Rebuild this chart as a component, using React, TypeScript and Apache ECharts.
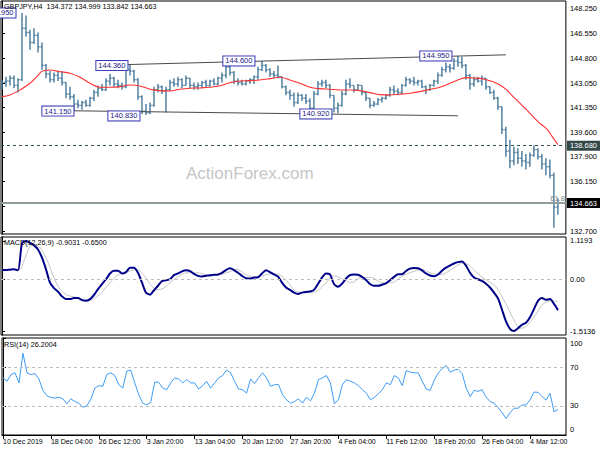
import React, { useEffect, useRef } from 'react';
import * as echarts from 'echarts';

// ---------- DATA ----------
const opens = [
  142.9, 143.1, 143.2, 143.4, 142.9, 143.3, 146.9, 146.6, 145.9, 146.4,
  145.6, 144.3, 143.7, 143.3, 143.6, 143.4, 143.1, 142.3, 142.1, 141.6,
  141.5, 141.7, 141.5, 142.0, 142.4, 142.7, 142.6, 143.2, 143.4, 143.0,
  142.9, 142.8, 144.0, 143.9, 143.3, 142.1, 141.1, 141.0, 141.5, 142.6,
  142.8, 142.5, 142.6, 143.1, 143.0, 143.3, 142.9, 143.4, 142.9, 142.8,
  142.9, 143.1, 142.9, 143.2, 143.0, 143.4, 143.6, 144.2, 143.8, 143.2,
  143.1, 143.0, 143.2, 143.3, 143.5, 144.0, 144.3, 144.0, 143.7, 143.6,
  143.5, 142.8, 142.4, 142.2, 141.7, 142.2, 142.0, 141.8, 141.3, 142.3,
  143.0, 143.1, 142.9, 142.2, 141.3, 141.5, 142.3, 143.0, 142.9, 142.6,
  142.9, 142.4, 142.0, 141.5, 141.6, 141.9, 142.0, 142.2, 142.6, 142.5,
  142.4, 142.9, 143.3, 143.2, 143.1, 143.2, 142.8, 142.6, 142.9, 143.2,
  143.6, 144.0, 144.2, 144.1, 144.6, 144.5, 144.3, 143.6, 143.0, 143.3,
  143.2, 143.4, 142.8, 142.4, 142.0, 141.4, 139.8, 138.3, 137.6, 138.2,
  137.8, 137.6, 137.5, 138.0, 138.4, 137.9, 137.4, 137.2, 136.6, 134.372,
];
const highs = [
  143.3, 143.5, 143.6, 143.6, 143.4, 147.97, 147.8, 146.8, 146.9, 146.6,
  145.9, 144.4, 143.9, 143.8, 143.9, 143.9, 143.1, 142.8, 142.3, 141.9,
  141.8, 141.9, 142.1, 142.6, 142.9, 143.0, 143.4, 143.7, 143.5, 143.3,
  143.1, 144.2, 144.36, 144.0, 143.4, 142.2, 141.6, 141.7, 142.8, 143.0,
  142.9, 142.8, 143.3, 143.4, 143.5, 143.4, 143.6, 143.4, 143.1, 143.1,
  143.2, 143.3, 143.3, 143.4, 143.5, 143.8, 144.4, 144.25, 143.9, 143.4,
  143.3, 143.3, 143.4, 143.6, 144.2, 144.6, 144.4, 144.1, 143.9, 144.3,
  143.5, 142.9, 142.6, 142.4, 142.4, 142.3, 142.3, 142.0, 142.5, 143.2,
  143.3, 143.3, 143.0, 142.2, 141.7, 142.5, 143.3, 143.4, 142.9, 143.0,
  142.9, 142.5, 142.0, 141.8, 142.0, 142.1, 142.3, 142.8, 142.9, 142.7,
  143.0, 143.5, 143.4, 143.5, 143.3, 143.3, 142.9, 143.0, 143.3, 143.8,
  144.2, 144.5, 144.4, 144.8, 144.95, 144.9, 144.4, 143.7, 143.5, 143.5,
  143.6, 143.4, 142.8, 142.6, 142.1, 141.4, 140.0, 139.1, 138.6, 138.5,
  138.3, 138.1, 138.2, 138.7, 138.5, 138.1, 137.8, 137.7, 136.8, 134.999,
];
const lows = [
  142.6, 142.8, 142.9, 142.7, 142.4, 143.2, 146.3, 145.4, 145.8, 145.2,
  144.0, 143.4, 143.1, 143.1, 143.2, 142.9, 142.0, 141.9, 141.15, 141.3,
  141.2, 141.4, 141.4, 141.8, 142.1, 142.5, 142.5, 142.9, 142.8, 142.7,
  142.6, 142.7, 143.6, 143.1, 141.9, 140.9, 140.83, 140.9, 141.4, 142.4,
  142.3, 141.0, 142.5, 142.8, 142.8, 142.7, 142.9, 142.7, 142.6, 142.6,
  142.7, 142.8, 142.8, 142.9, 142.9, 143.1, 143.4, 143.6, 143.0, 142.9,
  142.9, 142.9, 143.0, 143.0, 143.3, 143.9, 143.8, 143.5, 143.4, 143.4,
  142.7, 142.2, 141.9, 141.4, 141.6, 141.8, 141.6, 140.92, 141.2, 142.2,
  142.8, 142.7, 142.0, 141.0, 140.95, 141.4, 142.2, 142.7, 142.4, 142.5,
  142.2, 141.8, 141.3, 141.4, 141.5, 141.7, 141.9, 142.1, 142.3, 142.2,
  142.3, 142.8, 143.0, 142.9, 142.9, 142.7, 142.3, 142.5, 142.8, 143.0,
  143.5, 143.8, 143.8, 144.0, 144.2, 144.1, 143.3, 142.6, 142.8, 143.1,
  142.9, 142.6, 142.3, 141.9, 141.2, 139.5, 137.9, 137.1, 137.3, 137.4,
  137.2, 137.0, 137.2, 137.9, 137.7, 137.0, 136.6, 136.4, 132.92, 133.842,
];
const closes = [
  143.1, 143.2, 143.4, 142.9, 143.3, 146.9, 146.6, 145.9, 146.4, 145.6,
  144.3, 143.7, 143.3, 143.6, 143.4, 143.1, 142.3, 142.1, 141.6, 141.5,
  141.7, 141.5, 142.0, 142.4, 142.7, 142.6, 143.2, 143.4, 143.0, 142.9,
  142.8, 144.0, 143.9, 143.3, 142.1, 141.1, 141.0, 141.5, 142.6, 142.8,
  142.5, 142.6, 143.1, 143.0, 143.3, 142.9, 143.4, 142.9, 142.8, 142.9,
  143.1, 142.9, 143.2, 143.0, 143.4, 143.6, 144.2, 143.8, 143.2, 143.1,
  143.0, 143.2, 143.3, 143.5, 144.0, 144.3, 144.0, 143.7, 143.6, 143.5,
  142.8, 142.4, 142.2, 141.7, 142.2, 142.0, 141.8, 141.3, 142.3, 143.0,
  143.1, 142.9, 142.2, 141.3, 141.5, 142.3, 143.0, 142.9, 142.6, 142.9,
  142.4, 142.0, 141.5, 141.6, 141.9, 142.0, 142.2, 142.6, 142.5, 142.4,
  142.9, 143.3, 143.2, 143.1, 143.2, 142.8, 142.6, 142.9, 143.2, 143.6,
  144.0, 144.2, 144.1, 144.6, 144.5, 144.3, 143.6, 143.0, 143.3, 143.2,
  143.4, 142.8, 142.4, 142.0, 141.4, 139.8, 138.3, 137.6, 138.2, 137.8,
  137.6, 137.5, 138.0, 138.4, 137.9, 137.4, 137.2, 136.6, 134.372, 134.663,
];

// red moving average: [bar index, price]
const maIdx = [
  0, 2, 4.5, 7, 8.7, 10.3, 12, 14.5, 17, 19.5, 22, 24.5, 27, 29.5, 32, 34.5,
  37, 39.5, 42, 44.5, 47, 49.5, 52, 54.5, 57, 59.5, 62, 64.5, 67, 69.5, 72,
  74.5, 77, 79.5, 82, 84.5, 87, 89.5, 92, 94.5, 97, 99.5, 102, 104.5, 107,
  109.5, 112, 114.5, 116.2, 117.8, 120.3, 122.8, 124.5, 126.2, 127.8, 129.5,
  131.2, 132.8, 134.5, 136.2, 137.5, 139,
];
const maVal = [
  142.11, 142.23, 142.58, 143.05, 143.51, 143.93, 143.98, 143.86, 143.75, 143.47,
  143.05, 142.77, 142.77, 142.81, 142.93, 142.86, 142.63, 142.53, 142.51, 142.63,
  142.7, 142.72, 142.77, 142.88, 143.09, 143.21, 143.23, 143.28, 143.37, 143.47,
  143.28, 143.05, 142.77, 142.67, 142.63, 142.58, 142.58, 142.53, 142.39, 142.25,
  142.23, 142.28, 142.35, 142.46, 142.63, 142.77, 143.05, 143.33, 143.44, 143.42,
  143.35, 143.16, 142.93, 142.58, 142.11, 141.65, 141.18, 140.71, 140.24, 139.85,
  139.35, 138.75,
];

const macd = [
  0.27, 0.27, 0.28, 0.29, 0.26, 1.05, 1.1193, 1.06, 0.99, 0.87,
  0.63, 0.29, -0.1, -0.26, -0.36, -0.5, -0.58, -0.58, -0.55, -0.55,
  -0.61, -0.63, -0.58, -0.46, -0.29, -0.14, 0.0, 0.17, 0.25, 0.25,
  0.17, 0.21, 0.34, 0.34, 0.19, -0.1, -0.39, -0.45, -0.32, -0.19,
  -0.05, -0.03, 0.0, 0.12, 0.17, 0.23, 0.26, 0.24, 0.16, 0.1,
  0.08, 0.1, 0.12, 0.13, 0.14, 0.19, 0.27, 0.32, 0.27, 0.19,
  0.1, 0.03, 0.02, 0.05, 0.06, 0.17, 0.26, 0.21, 0.14, 0.08,
  -0.1, -0.24, -0.31, -0.39, -0.43, -0.39, -0.37, -0.36, -0.31, -0.14,
  0.05, 0.17, 0.14, -0.14, -0.22, -0.13, 0.02, 0.12, 0.14, 0.13,
  0.07, -0.02, -0.14, -0.19, -0.19, -0.16, -0.12, -0.03, 0.07, 0.15,
  0.15, 0.24, 0.31, 0.33, 0.32, 0.26, 0.17, 0.11, 0.09, 0.14,
  0.25, 0.34, 0.4, 0.46, 0.5, 0.52, 0.4, 0.19, 0.05, 0.0,
  -0.05, -0.13, -0.24, -0.39, -0.56, -0.89, -1.23, -1.45, -1.5136, -1.43,
  -1.33, -1.27, -1.11, -0.87, -0.63, -0.55, -0.6, -0.58, -0.72, -0.9031,
];
const sigIdx = [
  0, 4.5, 5.3, 7, 8.25, 9.5, 11.2, 12.8, 14.5, 16.2, 17.8, 20.3, 22, 23.7,
  25.3, 27, 28.7, 30.3, 32, 33.7, 35.3, 37, 38.7, 40.3, 42, 43.7, 46.2, 48.7,
  51.2, 53.7, 56.2, 58.7, 61.2, 63.7, 66.2, 68.7, 71.2, 73.25, 75.75, 78.25,
  80.75, 82.8, 84.9, 87.4, 89.9, 92.4, 94.9, 97.4, 99.9, 102.4, 104.9, 107.4,
  109.9, 112.4, 114.9, 116.6, 118.7, 120.75, 123.25, 125.75, 128.25, 129.5,
  130.75, 133.25, 135.3, 137.4, 139,
];
const sigVal = [
  0.29, 0.29, 0.48, 0.96, 1.01, 0.92, 0.58, 0.1, -0.29, -0.46, -0.51, -0.58,
  -0.61, -0.51, -0.34, -0.1, 0.1, 0.19, 0.24, 0.29, 0.14, -0.14, -0.31, -0.27,
  -0.1, 0.05, 0.19, 0.19, 0.13, 0.12, 0.19, 0.29, 0.12, 0.05, 0.14, 0.16,
  -0.05, -0.34, -0.39, -0.37, -0.14, 0.1, 0.02, -0.1, 0.05, 0.05, -0.1, -0.1,
  0.08, 0.21, 0.29, 0.17, 0.14, 0.29, 0.46, 0.43, 0.19, 0.0, -0.19, -0.67,
  -1.25, -1.43, -1.4, -1.06, -0.72, -0.63, -0.65,
];

const rsi = [
  58.9, 55.4, 62.3, 64.1, 53.7, 84.3, 64.1, 62.3, 63.4, 57.8,
  46.0, 40.4, 38.7, 38.0, 39.0, 37.3, 32.1, 37.3, 34.5, 32.8,
  28.6, 30.0, 37.0, 48.4, 50.9, 50.2, 62.3, 64.1, 61.3, 51.9,
  48.4, 65.8, 66.9, 53.7, 41.5, 32.8, 31.0, 33.8, 54.7, 54.3,
  48.4, 46.7, 53.7, 58.9, 57.8, 53.7, 57.1, 53.7, 53.7, 47.4,
  50.9, 55.4, 48.4, 53.7, 58.9, 61.3, 66.9, 64.1, 55.4, 47.4,
  46.7, 43.2, 57.8, 53.0, 58.9, 64.1, 58.9, 50.2, 51.9, 51.9,
  41.5, 36.3, 32.8, 34.5, 37.3, 32.8, 39.0, 35.2, 43.2, 57.1,
  58.9, 61.3, 53.7, 32.1, 36.3, 51.9, 57.1, 55.4, 53.7, 50.9,
  46.7, 43.2, 36.3, 38.7, 42.5, 46.7, 53.7, 51.9, 61.3, 58.9,
  50.9, 66.5, 64.8, 64.1, 64.1, 55.4, 47.4, 46.0, 56.4, 64.1,
  68.3, 71.7, 64.8, 66.9, 67.6, 63.4, 48.4, 39.7, 46.0, 45.0,
  46.7, 39.0, 34.5, 32.8, 28.3, 23.0, 17.1, 23.0, 27.6, 27.6,
  31.0, 31.0, 36.3, 44.3, 43.9, 39.7, 36.0, 43.0, 24.0, 26.2,
];

const priceTicks = [132.7, 134.4, 136.15, 137.9, 139.6, 141.35, 143.05, 144.8, 146.55, 148.25];
const priceLabels = [132.7, 136.15, 137.9, 139.6, 141.35, 143.05, 144.8, 146.55, 148.25];
const macdTicks = [-1.5136, 0, 1.1193];
const rsiTicks = [0, 30, 70, 100];
const rsiLevels = [30, 70];
const xLabelIdx = [0, 12, 24, 36, 48, 60, 72, 84, 96, 108, 120, 132];
const xLabels = [
  '10 Dec 2019', '18 Dec 04:00', '26 Dec 12:00', '3 Jan 20:00', '13 Jan 04:00', '20 Jan 12:00',
  '27 Jan 20:00', '4 Feb 04:00', '11 Feb 12:00', '18 Feb 20:00', '26 Feb 04:00', '4 Mar 12:00',
];
const resistanceLevel = 138.68;
const fibLevel = 134.663;
const lastPrice = 134.663;
const upperChannel = [[31.5, 144.36], [126, 145.04]];
const lowerChannel = [[18, 141.12], [114, 140.77]];
const noteIdx = [3.5, 18, 34.5, 82.5, 31.5, 63.25, 112.5];
const notePrice = [147.97, 141.1, 140.76, 140.9, 144.29, 144.61, 144.96];
const noteText = ['147.950', '141.150', '140.830', '140.920', '144.360', '144.600', '144.950'];

// ---------- CHART ----------
const FONT = "'Liberation Sans', Arial, sans-serif";
const BAR_COLOR = '#47799a';

function buildOption(): any {
  const bars = closes.map((c, i) => [i, opens[i], highs[i], lows[i], c]);
  const xBase = {
    type: 'value', min: -0.25, max: 141,
    splitLine: { show: false }, axisLabel: { show: false }, axisTick: { show: false }, axisLine: { show: false },
  };
  const yBase = {
    position: 'right',
    scale: true,
    splitLine: { show: false },
    axisLine: { show: true, lineStyle: { color: '#000', width: 1 } },
  };
  const lbl = { fontSize: 7.5, color: '#000', fontFamily: FONT, margin: 4 };
  const noteLabel = {
    show: true, position: 'left', distance: 0, fontSize: 7.5, fontFamily: FONT,
    color: '#1a1a86', backgroundColor: '#fff', borderColor: '#3838b8', borderWidth: 1,
    padding: [1, 2, 0, 2], lineHeight: 8,
  };
  const tagLabel = (text: string, bg: string) => ({
    show: true, position: 'end', distance: 1, formatter: text,
    backgroundColor: bg, color: '#fff', fontSize: 7.5, fontFamily: FONT, padding: [1, 4, 1, 3],
  });
  return {
    animation: false,
    backgroundColor: '#fff',
    textStyle: { fontFamily: FONT },
    title: [
      { text: 'GBPJPY,H4  134.372 134.999 133.842 134.663', left: 4, top: 3, padding: 0,
        textStyle: { fontSize: 7.2, fontWeight: 'normal', color: '#000', fontFamily: FONT } },
      { text: 'MACD(12,26,9) -0.9031 -0.6500', left: 4, top: 239, padding: 0,
        textStyle: { fontSize: 7.2, fontWeight: 'normal', color: '#000', fontFamily: FONT } },
      { text: 'RSI(14) 26.2004', left: 4, top: 341, padding: 0,
        textStyle: { fontSize: 7.2, fontWeight: 'normal', color: '#000', fontFamily: FONT } },
    ],
    graphic: [
      { type: 'text', left: 186, top: 165, z: -10, silent: true,
        style: { text: 'ActionForex.com', fontSize: 17, fill: '#c6c6c6', fontFamily: FONT } },
    ],
    grid: [
      { left: 1, top: 1, width: 565, height: 233, show: true, borderColor: '#000', borderWidth: 1, backgroundColor: 'transparent' },
      { left: 1, top: 237, width: 565, height: 98, show: true, borderColor: '#000', borderWidth: 1, backgroundColor: 'transparent' },
      { left: 1, top: 338, width: 565, height: 97, show: true, borderColor: '#000', borderWidth: 1, backgroundColor: 'transparent' },
    ],
    xAxis: [
      { ...xBase, gridIndex: 0 },
      { ...xBase, gridIndex: 1 },
      {
        ...xBase, gridIndex: 2,
        axisLine: { show: true, lineStyle: { color: '#000' } },
        axisTick: { show: true, customValues: xLabelIdx, length: 4, lineStyle: { color: '#000' } },
        axisLabel: {
          show: true, customValues: xLabelIdx, align: 'left', fontSize: 7, color: '#000', fontFamily: FONT, margin: 3,
          formatter: (v: number) => {
            const k = xLabelIdx.indexOf(Math.round(v));
            return k >= 0 ? xLabels[k] : '';
          },
        },
      },
    ],
    yAxis: [
      {
        ...yBase, gridIndex: 0, min: 132.49, max: 148.81,
        axisTick: { show: true, customValues: priceTicks, length: 3, lineStyle: { color: '#000' } },
        axisLabel: { ...lbl, customValues: priceLabels, formatter: (v: number) => v.toFixed(3) },
      },
      {
        ...yBase, gridIndex: 1, min: -1.629, max: 1.235,
        axisTick: { show: true, customValues: macdTicks, length: 3, lineStyle: { color: '#000' } },
        axisLabel: { ...lbl, customValues: macdTicks, formatter: (v: number) => (v === 0 ? '0.00' : v.toFixed(4)) },
      },
      {
        ...yBase, gridIndex: 2, min: 0, max: 100,
        axisTick: { show: true, customValues: rsiTicks, length: 3, lineStyle: { color: '#000' } },
        axisLabel: {
          ...lbl, customValues: rsiTicks,
          formatter: (v: number) => (v === 100 ? '{t|100}' : v === 0 ? '{b|0}' : String(v)),
          rich: {
            t: { padding: [10, 0, 0, 0], fontSize: 7.5, color: '#000', fontFamily: FONT },
            b: { padding: [0, 0, 11, 0], fontSize: 7.5, color: '#000', fontFamily: FONT },
          },
        },
      },
    ],
    series: [
      {
        type: 'custom', name: 'GBPJPY', xAxisIndex: 0, yAxisIndex: 0, clip: true,
        data: bars, encode: { x: 0, y: [1, 2, 3, 4] },
        renderItem: (_p: any, api: any) => {
          const i = api.value(0);
          const pO = api.coord([i, api.value(1)]);
          const pH = api.coord([i, api.value(2)]);
          const pL = api.coord([i, api.value(3)]);
          const pC = api.coord([i, api.value(4)]);
          const st = { stroke: BAR_COLOR, lineWidth: 1.4 };
          return {
            type: 'group',
            children: [
              { type: 'line', shape: { x1: pH[0], y1: pH[1], x2: pL[0], y2: pL[1] }, style: st },
              { type: 'line', shape: { x1: pO[0] - 1.6, y1: pO[1], x2: pO[0], y2: pO[1] }, style: st },
              { type: 'line', shape: { x1: pC[0], y1: pC[1], x2: pC[0] + 1.6, y2: pC[1] }, style: st },
            ],
          };
        },
      },
      {
        type: 'line', name: 'MA', xAxisIndex: 0, yAxisIndex: 0, showSymbol: false, symbol: 'none', smooth: 0.4,
        data: maIdx.map((x, k) => [x, maVal[k]]),
        lineStyle: { color: '#ff3030', width: 1.1 },
        z: 3,
        markLine: {
          silent: true, symbol: 'none', animation: false,
          label: { show: false },
          data: [
            { yAxis: resistanceLevel, lineStyle: { color: '#2f4f4f', width: 1, type: [3, 3] },
              label: tagLabel(resistanceLevel.toFixed(3), '#334848') },
            { yAxis: fibLevel, lineStyle: { color: '#8e9c9c', width: 2, type: 'solid' },
              label: { show: true, position: 'insideEndTop', distance: 1, formatter: '61.8',
                color: '#7a8888', fontSize: 7.5, fontFamily: FONT } },
            { yAxis: lastPrice, lineStyle: { color: '#8e9c9c', width: 2, type: 'solid' },
              label: tagLabel(lastPrice.toFixed(3), '#000') },
            [
              { coord: upperChannel[0], lineStyle: { color: '#4a4a4a', width: 1, type: 'solid' }, label: { show: false } },
              { coord: upperChannel[1], lineStyle: { color: '#4a4a4a', width: 1, type: 'solid' }, label: { show: false } },
            ],
            [
              { coord: lowerChannel[0], lineStyle: { color: '#4a4a4a', width: 1, type: 'solid' }, label: { show: false } },
              { coord: lowerChannel[1], lineStyle: { color: '#4a4a4a', width: 1, type: 'solid' }, label: { show: false } },
            ],
          ],
        },
        markPoint: {
          silent: true, animation: false, symbol: 'rect', symbolSize: 1,
          itemStyle: { color: 'rgba(0,0,0,0)' },
          data: noteIdx.map((x, k) => ({
            coord: [x, notePrice[k]],
            label: { ...noteLabel, formatter: noteText[k] },
          })),
        },
      },
      {
        type: 'line', name: 'Signal', xAxisIndex: 1, yAxisIndex: 1, showSymbol: false, symbol: 'none', smooth: 0.3,
        data: sigIdx.map((x, k) => [x, sigVal[k]]),
        lineStyle: { color: '#c4c4c4', width: 1 },
        markLine: {
          silent: true, symbol: 'none', animation: false, label: { show: false },
          lineStyle: { color: '#bdbdbd', width: 1, type: [3, 3] },
          data: [{ yAxis: 0 }],
        },
      },
      {
        type: 'line', name: 'MACD', xAxisIndex: 1, yAxisIndex: 1, showSymbol: false, symbol: 'none', smooth: 0.25,
        data: macd.map((v, i) => [i, v]),
        lineStyle: { color: '#00008b', width: 2 },
      },
      {
        type: 'line', name: 'RSI', xAxisIndex: 2, yAxisIndex: 2, showSymbol: false, symbol: 'none',
        data: rsi.map((v, i) => [i, v]),
        lineStyle: { color: '#3e9cf5', width: 1 },
        markLine: {
          silent: true, symbol: 'none', animation: false, label: { show: false },
          lineStyle: { color: '#bdbdbd', width: 1, type: [3, 3] },
          data: rsiLevels.map((v) => ({ yAxis: v })),
        },
      },
    ],
  };
}

export default function App() {
  const ref = useRef<HTMLDivElement>(null);
  useEffect(() => {
    if (!ref.current) return;
    const chart = echarts.init(ref.current, null, { renderer: 'svg' });
    chart.setOption(buildOption());
    return () => chart.dispose();
  }, []);
  return (
    <div
      ref={ref}
      style={{ position: 'absolute', left: 0, top: 0, width: 600, height: 450, background: '#fff' }}
    />
  );
}
